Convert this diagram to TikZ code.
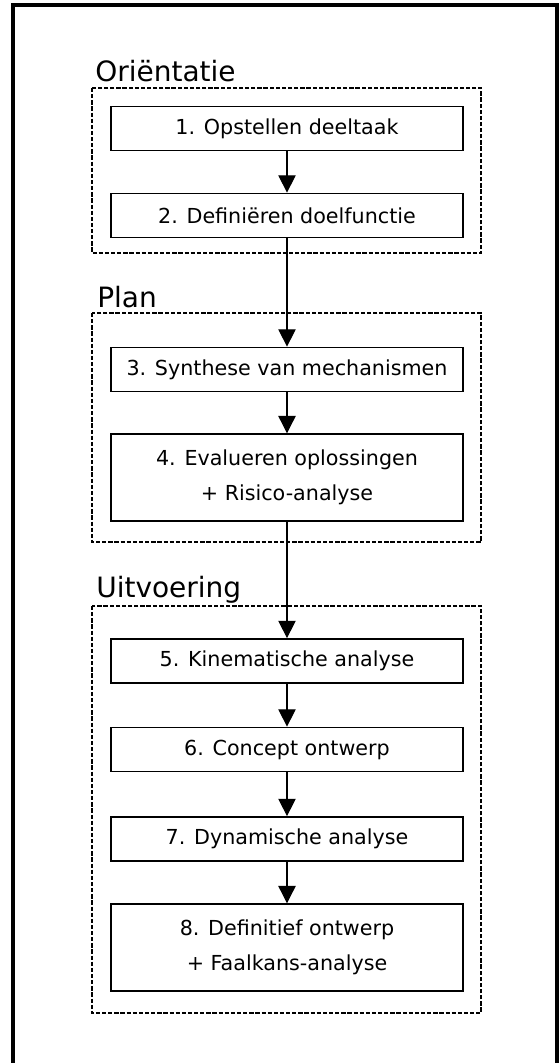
\documentclass[tikz,border=0pt]{standalone}
\usepackage{fontspec}
\setmainfont{DejaVu Sans}
\usetikzlibrary{arrows.meta}
\tikzset{
  stap/.style={draw, line width=1.3pt, minimum width=264pt, minimum height=33pt,
    inner sep=0pt, align=center, font=\fontsize{15.5}{26}\selectfont},
  dubbelstap/.style={stap, minimum height=65pt},
  fase/.style={draw, line width=0.8pt, dash pattern=on 3.2pt off 1.4pt},
  faselabel/.style={anchor=base west, inner sep=0pt, font=\fontsize{21}{25}\selectfont},
  pijl/.style={-{Triangle[length=13pt,width=13pt]}, line width=0.8pt}
}
\begin{document}
\begin{tikzpicture}[x=0.75pt,y=-0.75pt]
\useasboundingbox (0,0) rectangle (560,1063);
\draw[line width=2.6pt] (13,1063)--(13,5)--(557,5)--(557,1063);
% fasen
\draw[fase] (92,88) rectangle (481,253);
\draw[fase] (92,313) rectangle (481,542);
\draw[fase] (92,606) rectangle (481,1013);
\node[faselabel] (orient) at (95,82) {Oriëntatie};
\node[faselabel] (plan) at (97,307) {Plan};
\node[faselabel] (uitv) at (96,597) {Uitvoering};
% stappen
\node[stap] (s1) at (287,128.5) {1. Opstellen deeltaak};
\node[stap] (s2) at (287,215.5) {2. Definiëren doelfunctie};
\node[stap] (s3) at (287,369.5) {3. Synthese van mechanismen};
\node[dubbelstap] (s4) at (287,477.5) {4. Evalueren oplossingen\\+ Risico-analyse};
\node[stap] (s5) at (287,661) {5. Kinematische analyse};
\node[stap] (s6) at (287,749.5) {6. Concept ontwerp};
\node[stap] (s7) at (287,839) {7. Dynamische analyse};
\node[dubbelstap] (s8) at (287,947.5) {8. Definitief ontwerp\\+ Faalkans-analyse};
%
\draw[pijl] (s1) -- (s2);
\draw[pijl] (s2) -- (s3);
\draw[pijl] (s3) -- (s4);
\draw[pijl] (s4) -- (s5);
\draw[pijl] (s5) -- (s6);
\draw[pijl] (s6) -- (s7);
\draw[pijl] (s7) -- (s8);
\end{tikzpicture}
\end{document}
